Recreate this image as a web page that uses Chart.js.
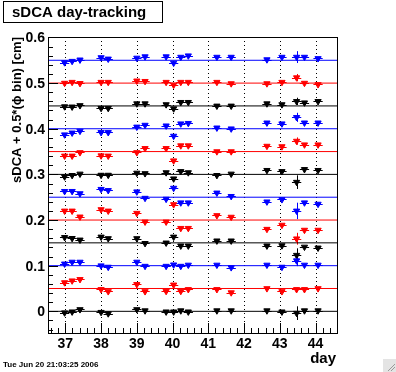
<!DOCTYPE html>
<html>
<head>
<meta charset="utf-8">
<script src="https://cdn.jsdelivr.net/npm/chart.js@4.4.0/dist/chart.umd.min.js"></script>
<style>
  html, body { margin: 0; padding: 0; background: #fff; }
  canvas { display: block; }
</style>
</head>
<body>
<canvas id="myChart" width="396" height="372"></canvas>
<script>
// day of each measurement
const days = [36.98, 37.19, 37.41, 38.0, 38.2, 39.0, 39.23, 39.82, 40.03, 40.23, 40.44, 41.24, 41.64, 42.64, 43.06, 43.47, 43.69, 44.07];

// reference level of each phi bin (0.05 per bin)
const phiLevels = [0, 0.05, 0.10, 0.15, 0.20, 0.25, 0.30, 0.35, 0.40, 0.45, 0.50, 0.55];

// sDCA + offset, one array per phi bin
const bin0 = [-0.003, -0.001, 0.004, -0.002, -0.005, 0.004, 0.0015, -0.001, -0.001, 0.0015, -0.001, 0.0015, 0.0015, 0.0015, -0.001, -0.004, 0.0015, 0.0015];
const bin1 = [0.063, 0.067, 0.070, 0.048, 0.0435, 0.059, 0.0435, 0.044, 0.058, 0.044, 0.048, 0.048, 0.041, 0.050, 0.0435, 0.048, 0.048, 0.050];
const bin2 = [0.104, 0.108, 0.108, 0.100, 0.097, 0.108, 0.099, 0.099, 0.102, 0.099, 0.1015, 0.1015, 0.096, 0.1015, 0.097, 0.111, 0.1015, 0.1015];
const bin3 = [0.162, 0.160, 0.1565, 0.163, 0.1595, 0.1595, 0.149, 0.150, 0.163, 0.1435, 0.1435, 0.1545, 0.1545, 0.1435, 0.144, 0.123, 0.141, 0.139];
const bin4 = [0.220, 0.220, 0.207, 0.223, 0.220, 0.215, 0.196, 0.196, 0.234, 0.182, 0.182, 0.210, 0.2065, 0.180, 0.189, 0.159, 0.178, 0.178];
const bin5 = [0.263, 0.263, 0.258, 0.2675, 0.265, 0.262, 0.248, 0.246, 0.270, 0.238, 0.238, 0.2595, 0.252, 0.240, 0.245, 0.220, 0.238, 0.235];
const bin6 = [0.295, 0.298, 0.301, 0.2985, 0.2985, 0.303, 0.302, 0.304, 0.2905, 0.3065, 0.304, 0.298, 0.301, 0.309, 0.3065, 0.283, 0.311, 0.309];
const bin7 = [0.3405, 0.3405, 0.348, 0.341, 0.3405, 0.348, 0.357, 0.357, 0.330, 0.363, 0.363, 0.350, 0.350, 0.362, 0.361, 0.373, 0.365, 0.365];
const bin8 = [0.387, 0.391, 0.395, 0.392, 0.392, 0.404, 0.408, 0.4065, 0.384, 0.411, 0.412, 0.402, 0.400, 0.413, 0.411, 0.425, 0.413, 0.413];
const bin9 = [0.4485, 0.448, 0.451, 0.445, 0.445, 0.455, 0.455, 0.453, 0.444, 0.458, 0.458, 0.450, 0.450, 0.455, 0.453, 0.460, 0.457, 0.460];
const bin10 = [0.500, 0.502, 0.4995, 0.502, 0.502, 0.505, 0.504, 0.502, 0.496, 0.502, 0.502, 0.502, 0.499, 0.499, 0.502, 0.512, 0.500, 0.497];
const bin11 = [0.545, 0.548, 0.551, 0.556, 0.553, 0.555, 0.558, 0.558, 0.544, 0.557, 0.560, 0.557, 0.557, 0.5515, 0.557, 0.557, 0.557, 0.554];
const bins = [bin0, bin1, bin2, bin3, bin4, bin5, bin6, bin7, bin8, bin9, bin10, bin11];

// errors: the day-43.47 run has the only visible vertical bars
const dayErr = 0.13;
const errIndex = 15;
const err43 = [0.015, 0.004, 0.012, 0.015, 0.013, 0.018, 0.015, 0.008, 0.010, 0.008, 0.008, 0.013];

const xTicks = [37, 38, 39, 40, 41, 42, 43, 44];
const yTicks = [0, 0.1, 0.2, 0.3, 0.4, 0.5, 0.6];
const yTickLabels = ["0", "0.1", "0.2", "0.3", "0.4", "0.5", "0.6"];

const binColors = ["#000000", "#ff0000", "#0000ff"];
const FONT = "'Liberation Sans', Arial, sans-serif";

const datasets = [];
phiLevels.forEach((lvl, i) => {
    const col = binColors[i % 3];
    datasets.push({
        type: "line",
        data: [{ x: 36.515, y: lvl }, { x: 44.6, y: lvl }],
        borderColor: col,
        borderWidth: 1,
        pointRadius: 0,
        order: 2
    });
});
bins.forEach((vals, i) => {
    const col = binColors[i % 3];
    datasets.push({
        type: "scatter",
        data: vals.map((v, j) => ({ x: days[j], y: v })),
        backgroundColor: col,
        borderColor: col,
        borderWidth: 1,
        pointStyle: "triangle",
        pointRotation: 180,
        pointRadius: 3.6,
        pointHoverRadius: 3.6,
        errCol: col,
        binIdx: i,
        order: 1
    });
});

const rootStyle = {
    id: "rootStyle",
    beforeDatasetsDraw(chart) {
        const ctx = chart.ctx;
        const a = chart.chartArea;
        const xs = chart.scales.x, ys = chart.scales.y;
        ctx.save();
        // dotted day lines
        ctx.strokeStyle = "#000";
        ctx.lineWidth = 1;
        ctx.setLineDash([1, 3]);
        xTicks.forEach(t => {
            const px = Math.round(xs.getPixelForValue(t)) + 0.5;
            ctx.beginPath();
            ctx.moveTo(px, a.top);
            ctx.lineTo(px, a.bottom);
            ctx.stroke();
        });
        ctx.setLineDash([]);
        // error bars
        chart.data.datasets.forEach(ds => {
            if (ds.type !== "scatter") return;
            ctx.strokeStyle = ds.errCol;
            ds.data.forEach((p, j) => {
                const cx = xs.getPixelForValue(p.x);
                const cy = Math.round(ys.getPixelForValue(p.y)) + 0.5;
                ctx.beginPath();
                ctx.moveTo(xs.getPixelForValue(p.x - dayErr), cy);
                ctx.lineTo(xs.getPixelForValue(p.x + dayErr), cy);
                if (j === errIndex) {
                    const e = err43[ds.binIdx];
                    const vx = Math.round(cx) + 0.5;
                    ctx.moveTo(vx, ys.getPixelForValue(p.y - e));
                    ctx.lineTo(vx, ys.getPixelForValue(p.y + e));
                }
                ctx.stroke();
            });
        });
        ctx.restore();
    },
    afterDraw(chart) {
        const ctx = chart.ctx;
        const a = chart.chartArea;
        const xs = chart.scales.x, ys = chart.scales.y;
        ctx.save();
        ctx.strokeStyle = "#000";
        ctx.lineWidth = 1;
        // frame
        ctx.strokeRect(Math.round(a.left) + 0.5, Math.round(a.top) + 0.5,
            Math.round(a.right - a.left), Math.round(a.bottom - a.top));
        // x ticks
        ctx.beginPath();
        for (let v = 36.6; v <= 44.6; v += 0.2) {
            const px = Math.round(xs.getPixelForValue(v)) + 0.5;
            const major = Math.abs(v - Math.round(v)) < 0.01;
            ctx.moveTo(px, a.bottom);
            ctx.lineTo(px, a.bottom - (major ? 10 : 5));
        }
        // y ticks
        for (let v = -0.04; v <= 0.6001; v += 0.02) {
            const py = Math.round(ys.getPixelForValue(v)) + 0.5;
            const major = Math.abs(v * 10 - Math.round(v * 10)) < 0.01;
            ctx.moveTo(a.left, py);
            ctx.lineTo(a.left + (major ? 10 : 5), py);
        }
        ctx.stroke();
        // tick labels
        ctx.fillStyle = "#000";
        ctx.font = "bold 14px " + FONT;
        ctx.textAlign = "right";
        ctx.textBaseline = "middle";
        yTicks.forEach((t, i) => {
            ctx.fillText(yTickLabels[i], a.left - 3, ys.getPixelForValue(t) + 1);
        });
        ctx.textAlign = "center";
        ctx.textBaseline = "top";
        xTicks.forEach(t => {
            ctx.fillText(String(t), xs.getPixelForValue(t), a.bottom + 4);
        });
        // axis titles
        ctx.font = "bold 15px " + FONT;
        ctx.textAlign = "right";
        ctx.textBaseline = "alphabetic";
        ctx.fillText("day", a.right - 1, 363);
        ctx.save();
        ctx.translate(21, a.top);
        ctx.rotate(-Math.PI / 2);
        ctx.font = "bold 13px " + FONT;
        ctx.textAlign = "right";
        ctx.fillText("sDCA + 0.5*(\u03d5 bin) [cm]", 0, 0);
        ctx.restore();
        // title box
        ctx.fillStyle = "#fff";
        ctx.fillRect(3, 1, 159, 21);
        ctx.strokeRect(3.5, 1.5, 159, 21);
        ctx.fillStyle = "#000";
        ctx.font = "bold 15px " + FONT;
        ctx.textAlign = "left";
        ctx.fillText("sDCA day-tracking", 12, 17);
        // date stamp
        ctx.font = "bold 8px " + FONT;
        ctx.fillText("Tue Jun 20 21:03:25 2006", 3, 367);
        // resize grip
        ctx.fillStyle = "#e4e4e4";
        ctx.fillRect(383, 359, 13, 13);
        ctx.strokeStyle = "#9a9a9a";
        ctx.beginPath();
        ctx.moveTo(388, 371); ctx.lineTo(395, 364);
        ctx.moveTo(391, 371); ctx.lineTo(395, 367);
        ctx.stroke();
        ctx.restore();
    }
};

var ctx = document.getElementById("myChart").getContext("2d");
var chart = new Chart(ctx, {
    data: { datasets: datasets },
    options: {
        responsive: false,
        animation: false,
        events: [],
        layout: { padding: { left: 48, right: 59, top: 37, bottom: 39 } },
        plugins: { legend: { display: false }, tooltip: { enabled: false } },
        scales: {
            x: { type: "linear", min: 36.515, max: 44.6, display: false },
            y: { type: "linear", min: -0.0475, max: 0.601, display: false }
        }
    },
    plugins: [rootStyle]
});
</script>
</body>
</html>
